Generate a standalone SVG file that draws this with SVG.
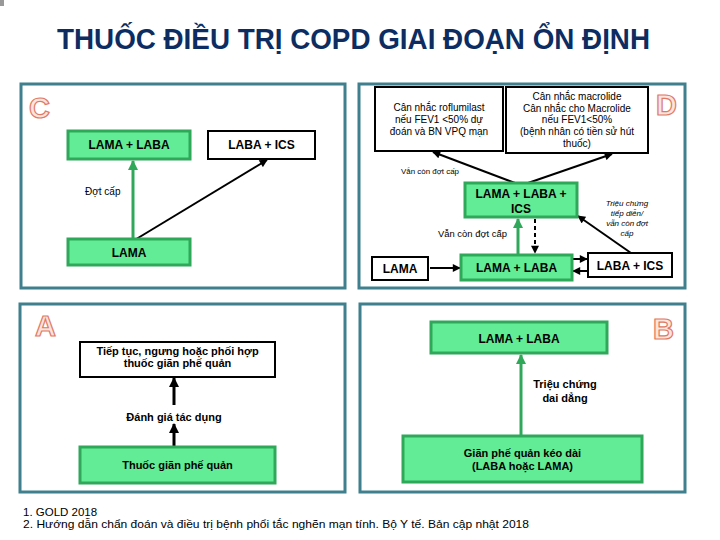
<svg xmlns="http://www.w3.org/2000/svg" width="720" height="540" viewBox="0 0 720 540">
<style>
.panel{fill:#fff;stroke:#3f7f8e;stroke-width:3}
.g{fill:#62ec95;stroke:#2fa85a;stroke-width:3}
.w{fill:#fff;stroke:#000;stroke-width:2}
.t{font-family:"Liberation Sans",Arial,sans-serif;fill:#000}
.b{font-weight:bold;font-size:12px;text-anchor:middle}
.b11{font-weight:bold;font-size:11px;text-anchor:middle}
.r10{font-size:10px;text-anchor:middle}
.letter{font-family:"Liberation Sans",Arial,sans-serif;font-size:29px;font-weight:bold;fill:#fde4dc;stroke:#e07a65;stroke-width:1.2}
.bl{stroke:#000;stroke-width:2;fill:none}
.bk{stroke:#000;stroke-width:3;fill:none}
.gr{stroke:#2fa85a;stroke-width:3;fill:none}
</style>
<defs>
<marker id="ab" viewBox="0 0 10 10" refX="9" refY="5" markerWidth="9" markerHeight="8" markerUnits="userSpaceOnUse" orient="auto"><path d="M0,0 L10,5 L0,10 z" fill="#000"/></marker>
<marker id="abk" viewBox="0 0 10 10" refX="9" refY="5" markerWidth="11" markerHeight="10" markerUnits="userSpaceOnUse" orient="auto"><path d="M0,0 L10,5 L0,10 z" fill="#000"/></marker>
<marker id="ag" viewBox="0 0 10 10" refX="9" refY="5" markerWidth="10" markerHeight="10" markerUnits="userSpaceOnUse" orient="auto"><path d="M0,0 L10,5 L0,10 z" fill="#2fa85a"/></marker>
</defs>
<rect x="0" y="0" width="720" height="540" fill="#fff"/>
<rect x="0" y="0" width="4" height="6" fill="#999"/>
<text x="57" y="49" font-family="'Liberation Sans',Arial,sans-serif" font-weight="bold" font-size="29" fill="#0d2d62" textLength="593" lengthAdjust="spacingAndGlyphs">THUỐC ĐIỀU TRỊ COPD GIAI ĐOẠN ỔN ĐỊNH</text>

<g id="panels">
<rect class="panel" x="21" y="84" width="324" height="204"/>
<rect class="panel" x="359" y="84" width="326" height="204"/>
<rect class="panel" x="20" y="304" width="325" height="188"/>
<rect class="panel" x="360" y="304" width="325" height="188"/>
<text class="letter" x="29" y="118">C</text>
<text class="letter" x="656" y="115">D</text>
<text class="letter" x="35" y="336">A</text>
<text class="letter" x="653" y="339">B</text>
</g>

<g id="connectors">
<line class="gr" x1="133" y1="239" x2="133" y2="161" marker-end="url(#ag)"/>
<line class="bl" x1="133" y1="241" x2="267" y2="160" marker-end="url(#ab)"/>
<line class="bl" x1="515" y1="183" x2="433" y2="152" marker-end="url(#ab)"/>
<line class="bl" x1="528" y1="183" x2="612" y2="154" marker-end="url(#ab)"/>
<line class="gr" x1="518" y1="255" x2="518" y2="219" marker-end="url(#ag)"/>
<line class="bl" x1="535" y1="219" x2="535" y2="253" stroke-dasharray="4,3" marker-end="url(#ab)"/>
<line class="bl" x1="430" y1="268" x2="460" y2="268" marker-end="url(#ab)"/>
<line class="bl" x1="573" y1="259" x2="587" y2="259" marker-end="url(#ab)"/>
<line class="bl" x1="588" y1="271" x2="573" y2="271" marker-end="url(#ab)"/>
<line class="bl" x1="631" y1="253" x2="578" y2="216" marker-end="url(#ab)"/>
<line class="bk" x1="174" y1="405" x2="174" y2="378" marker-end="url(#abk)"/>
<line class="bk" x1="174" y1="447" x2="174" y2="424" marker-end="url(#abk)"/>
<line class="gr" x1="521" y1="436" x2="521" y2="355" marker-end="url(#ag)"/>
<text class="t" x="85" y="195" font-size="10">Đợt cấp</text>
<text class="t" x="401" y="174" font-size="8" textLength="58" lengthAdjust="spacingAndGlyphs">Vẫn còn đợt cấp</text>
<text class="t" x="438" y="237" font-size="9" textLength="69" lengthAdjust="spacingAndGlyphs">Vẫn còn đợt cấp</text>
<g class="t" font-size="8" font-style="italic" text-anchor="middle">
<text x="627" y="206">Triệu chứng</text>
<text x="627" y="216">tiếp diễn/</text>
<text x="627" y="226">vẫn còn đợt</text>
<text x="627" y="236">cấp</text>
</g>
<text class="t b11" x="174" y="421">Đánh giá tác dụng</text>
<text class="t b11" x="565" y="388">Triệu chứng</text>
<text class="t b11" x="565" y="402">dai dẳng</text>
</g>

<g id="c_lamalaba"><rect class="g" x="68" y="131" width="122" height="28"/><text class="t b" x="129" y="149">LAMA + LABA</text></g>
<g id="c_labaics"><rect class="w" x="208" y="131" width="107" height="28"/><text class="t b" x="261.5" y="149">LABA + ICS</text></g>
<g id="c_lama"><rect class="g" x="68" y="239" width="122" height="26"/><text class="t b" x="129" y="257">LAMA</text></g>

<g id="d_roflumilast"><rect class="w" x="375" y="87" width="128" height="64"/>
<text class="t r10" x="439" y="111">Cân nhắc roflumilast</text>
<text class="t r10" x="439" y="123">nếu FEV1 &lt;50% dự</text>
<text class="t r10" x="439" y="135">đoán và BN VPQ mạn</text></g>
<g id="d_macrolide"><rect class="w" x="506" y="87" width="142" height="66"/>
<text class="t r10" x="577" y="100">Cân nhắc macrolide</text>
<text class="t r10" x="577" y="111.5">Cân nhắc cho Macrolide</text>
<text class="t r10" x="577" y="123">nếu FEV1&lt;50%</text>
<text class="t r10" x="577" y="135">(bệnh nhân có tiền sử hút</text>
<text class="t r10" x="577" y="146.5">thuốc)</text></g>
<g id="d_lamalabaics"><rect class="g" x="465" y="183" width="112" height="34"/>
<text class="t b" x="521" y="198">LAMA + LABA +</text>
<text class="t b" x="521" y="213">ICS</text></g>
<g id="d_lama"><rect class="w" x="372" y="257" width="56" height="23"/><text class="t b" x="400" y="273">LAMA</text></g>
<g id="d_lamalaba"><rect class="g" x="461" y="255" width="111" height="25"/><text class="t b" x="516.5" y="272">LAMA + LABA</text></g>
<g id="d_labaics"><rect class="w" x="588" y="253" width="84" height="24"/><text class="t b" x="630" y="270">LABA + ICS</text></g>

<g id="a_tieptuc"><rect class="w" x="80" y="342" width="195" height="35"/>
<text class="t b11" x="177.5" y="355" font-size="10.5">Tiếp tục, ngưng hoặc phối hợp</text>
<text class="t b11" x="177.5" y="367" font-size="10.5">thuốc giãn phế quản</text></g>
<g id="a_thuoc"><rect class="g" x="80" y="447" width="195" height="36"/><text class="t b11" x="177.5" y="469">Thuốc giãn phế quản</text></g>

<g id="b_lamalaba"><rect class="g" x="431" y="322" width="176" height="31"/><text class="t b" x="519" y="343">LAMA + LABA</text></g>
<g id="b_gianphequan"><rect class="g" x="403" y="436" width="239" height="46"/>
<text class="t b11" x="522.5" y="457">Giãn phế quản kéo dài</text>
<text class="t b11" x="522.5" y="470">(LABA hoặc LAMA)</text></g>

<g id="footer" class="t" font-size="11.5">
<text x="23" y="516">1. GOLD 2018</text>
<text x="23" y="528" textLength="506" lengthAdjust="spacingAndGlyphs">2. Hướng dẫn chẩn đoán và điều trị bệnh phổi tắc nghẽn mạn tính. Bộ Y tế. Bản cập nhật 2018</text>
</g>
</svg>
